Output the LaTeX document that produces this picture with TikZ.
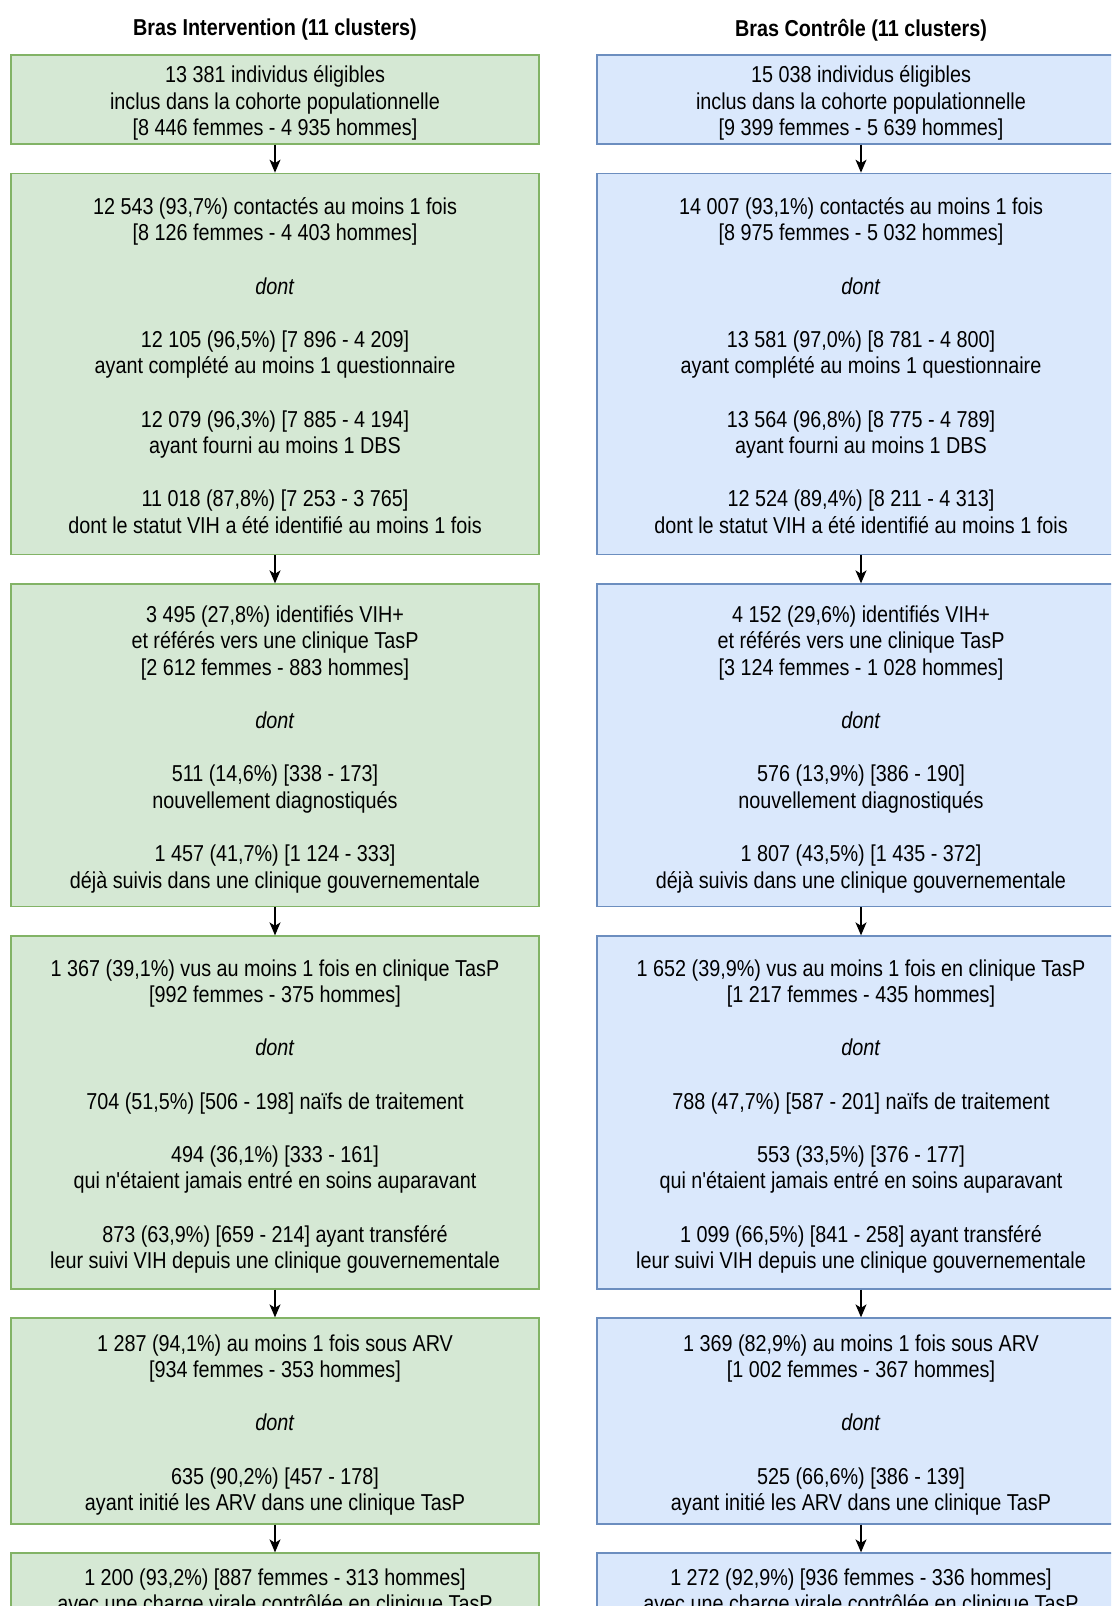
\documentclass[tikz,border=0pt]{standalone}
\usepackage{fontspec}
\setmainfont[FakeStretch=0.86]{Liberation Sans}
\newfontfamily\plainfont[FakeStretch=0.86]{Liberation Sans}
\usetikzlibrary{arrows.meta}
\definecolor{gfill}{HTML}{D5E8D4}
\definecolor{gline}{HTML}{82B366}
\definecolor{bfill}{HTML}{DAE8FC}
\definecolor{bline}{HTML}{6C8EBF}
\newcommand{\zs}{\rule[-5.5pt]{0pt}{26.6pt}}
\newcommand{\zt}{\rule[-5.5pt]{0pt}{30.6pt}}
\newcommand{\zb}{\\\zs\\}
\newcommand{\apo}{{\plainfont'}}
\tikzset{
  boxbase/.style={rectangle, draw, line width=1.3pt, inner sep=0pt, align=center,
     minimum width=528pt, font=\fontsize{23}{26.6}\selectfont},
  gbox/.style={boxbase, fill=gfill, draw=gline},
  bbox/.style={boxbase, fill=bfill, draw=bline},
  arr/.style={line width=1.4pt, -{Stealth[length=13pt,width=11pt,inset=3.5pt]}},
  ttl/.style={font=\fontsize{23}{26.6}\selectfont\bfseries, inner sep=0pt}
}
\begin{document}
\begin{tikzpicture}[x=1pt,y=-1pt]
\useasboundingbox (0,0) rectangle (1111,1606);
\clip (0,0) rectangle (1111,1606);
\fill[white] (0,0) rectangle (1111,1606);

\node[ttl] (TL) at (275,30) {Bras Intervention (11 clusters)};
\node[ttl] (TR) at (861,30) {Bras Contrôle (11 clusters)};

% Left column
\node[gbox, minimum height=89pt] (L1) at (275,99.5) {\zt 13 381 individus éligibles\\\zs inclus dans la cohorte populationnelle\\\zs [8 446 femmes - 4 935 hommes]};
\node[gbox, minimum height=381.4pt] (L2) at (275,364) {\zt 12 543 (93,7\%) contactés au moins 1 fois\\\zs [8 126 femmes - 4 403 hommes]\zb\zs \textit{dont}\zb\zs 12 105 (96,5\%) [7 896 - 4 209]\\\zs ayant complété au moins 1 questionnaire\zb\zs 12 079 (96,3\%) [7 885 - 4 194]\\\zs ayant fourni au moins 1 DBS\zb\zs 11 018 (87,8\%) [7 253 - 3 765]\\\zs dont le statut VIH a été identifié au moins 1 fois};
\node[gbox, minimum height=322.7pt] (L3) at (275,745.35) {\zt 3 495 (27,8\%) identifiés VIH+\\\zs et référés vers une clinique TasP\\\zs [2 612 femmes - 883 hommes]\zb\zs \textit{dont}\zb\zs 511 (14,6\%) [338 - 173]\\\zs nouvellement diagnostiqués\zb\zs 1 457 (41,7\%) [1 124 - 333]\\\zs déjà suivis dans une clinique gouvernementale};
\node[gbox, minimum height=353pt] (L4) at (275,1112.5) {\zt 1 367 (39,1\%) vus au moins 1 fois en clinique TasP\\\zs [992 femmes - 375 hommes]\zb\zs \textit{dont}\zb\zs 704 (51,5\%) [506 - 198] naïfs de traitement\zb\zs 494 (36,1\%) [333 - 161]\\\zs qui n\apo étaient jamais entré en soins auparavant\zb\zs 873 (63,9\%) [659 - 214] ayant transféré\\\zs leur suivi VIH depuis une clinique gouvernementale};
\node[gbox, minimum height=206pt] (L5) at (275,1421) {\zt 1 287 (94,1\%) au moins 1 fois sous ARV\\\zs [934 femmes - 353 hommes]\zb\zs \textit{dont}\zb\zs 635 (90,2\%) [457 - 178]\\\zs ayant initié les ARV dans une clinique TasP};
\node[gbox, minimum height=71pt] (L6) at (275,1588.5) {\zt 1 200 (93,2\%) [887 femmes - 313 hommes]\\\zs avec une charge virale contrôlée en clinique TasP};

% Right column
\node[bbox, minimum height=89pt] (R1) at (861,99.5) {\zt 15 038 individus éligibles\\\zs inclus dans la cohorte populationnelle\\\zs [9 399 femmes - 5 639 hommes]};
\node[bbox, minimum height=381.4pt] (R2) at (861,364) {\zt 14 007 (93,1\%) contactés au moins 1 fois\\\zs [8 975 femmes - 5 032 hommes]\zb\zs \textit{dont}\zb\zs 13 581 (97,0\%) [8 781 - 4 800]\\\zs ayant complété au moins 1 questionnaire\zb\zs 13 564 (96,8\%) [8 775 - 4 789]\\\zs ayant fourni au moins 1 DBS\zb\zs 12 524 (89,4\%) [8 211 - 4 313]\\\zs dont le statut VIH a été identifié au moins 1 fois};
\node[bbox, minimum height=322.7pt] (R3) at (861,745.35) {\zt 4 152 (29,6\%) identifiés VIH+\\\zs et référés vers une clinique TasP\\\zs [3 124 femmes - 1 028 hommes]\zb\zs \textit{dont}\zb\zs 576 (13,9\%) [386 - 190]\\\zs nouvellement diagnostiqués\zb\zs 1 807 (43,5\%) [1 435 - 372]\\\zs déjà suivis dans une clinique gouvernementale};
\node[bbox, minimum height=353pt] (R4) at (861,1112.5) {\zt 1 652 (39,9\%) vus au moins 1 fois en clinique TasP\\\zs [1 217 femmes - 435 hommes]\zb\zs \textit{dont}\zb\zs 788 (47,7\%) [587 - 201] naïfs de traitement\zb\zs 553 (33,5\%) [376 - 177]\\\zs qui n\apo étaient jamais entré en soins auparavant\zb\zs 1 099 (66,5\%) [841 - 258] ayant transféré\\\zs leur suivi VIH depuis une clinique gouvernementale};
\node[bbox, minimum height=206pt] (R5) at (861,1421) {\zt 1 369 (82,9\%) au moins 1 fois sous ARV\\\zs [1 002 femmes - 367 hommes]\zb\zs \textit{dont}\zb\zs 525 (66,6\%) [386 - 139]\\\zs ayant initié les ARV dans une clinique TasP};
\node[bbox, minimum height=71pt] (R6) at (861,1588.5) {\zt 1 272 (92,9\%) [936 femmes - 336 hommes]\\\zs avec une charge virale contrôlée en clinique TasP};

% Arrows
\foreach \a/\b in {L1/L2,L2/L3,L3/L4,L4/L5,L5/L6,R1/R2,R2/R3,R3/R4,R4/R5,R5/R6}
  \draw[arr] (\a.south) -- (\b.north);
\end{tikzpicture}
\end{document}
